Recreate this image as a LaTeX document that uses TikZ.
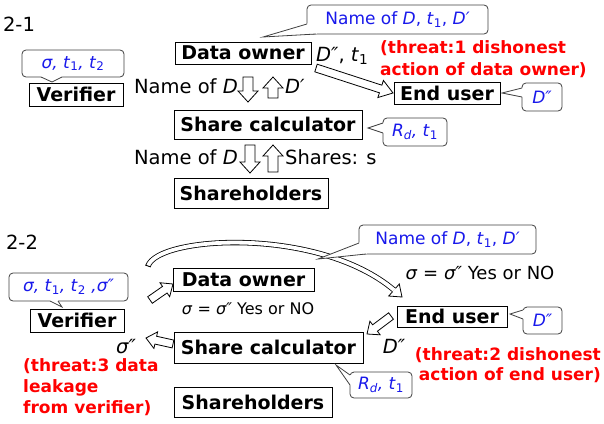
\documentclass[tikz,border=0pt]{standalone}
\usepackage{fontspec}
\setmainfont{DejaVu Sans}
\usetikzlibrary{calc}
\definecolor{cblue}{RGB}{25,25,235}
\definecolor{cred}{RGB}{255,0,0}
\newcommand\blockarr[5]{%
  \coordinate (ah) at ($(#2)!#5!(#1)$);
  \draw[barrow] ($(#1)!#3!90:(#2)$) -- ($(ah)!#3!90:(#2)$) -- ($(ah)!#4!90:(#2)$) -- (#2)
    -- ($(ah)!#4!-90:(#2)$) -- ($(ah)!#3!-90:(#2)$) -- ($(#1)!#3!-90:(#2)$) -- cycle;}
\newcommand\pointer[4]{%
  \fill[white] ($#2+#4$) -- #2 -- #1 -- #3 -- ($#3+#4$) -- cycle;
  \draw[ptrline] #2 -- #1 -- #3;}
\begin{document}
\begin{tikzpicture}[x=1pt,y=-1pt,
  box/.style={draw=black, line width=0.9pt, fill=white, inner sep=0pt,
    font=\fontsize{19}{22}\selectfont\bfseries},
  call/.style={draw=black!75, line width=0.8pt, rounded corners=4pt, fill=white,
    inner sep=0pt, text=cblue, font=\fontsize{17}{20}\selectfont},
  ptrline/.style={draw=black!75, line width=0.8pt},
  lab/.style={inner sep=0pt, font=\fontsize{19.5}{22}\selectfont},
  labs/.style={inner sep=0pt, font=\fontsize{16}{20}\selectfont},
  labm/.style={inner sep=0pt, font=\fontsize{18}{21}\selectfont},
  threat/.style={inner sep=0pt, text=cred, font=\fontsize{17}{22}\selectfont\bfseries},
  barrow/.style={draw=black, line width=0.8pt, fill=white, line join=miter},
]
\useasboundingbox (0,0) rectangle (604,423);

% ================= 2-1 =================
\node[lab] (t21) at (19,24) {2-1};
\node[box, minimum width=136pt, minimum height=22pt] (do1) at (243,53) {Data owner};
\node[box, minimum width=94pt, minimum height=23pt] (ver1) at (76,94.5) {Verifier};
\node[box, minimum width=106pt, minimum height=22pt] (eu1) at (447,93) {End user};
\node[box, minimum width=188pt, minimum height=29pt] (sc1) at (268,124.5) {Share calculator};
\node[box, minimum width=154pt, minimum height=30pt] (sh1) at (251,193) {Shareholders};

\node[lab, anchor=east] (nd1) at (238,86) {Name of \textit{D}};
\node[lab, anchor=west] (dp1) at (285,86) {\textit{D′}};
\node[lab, anchor=west] (dpp1) at (316,56) {\textit{D″}, \textit{t}\textsubscript{1}};
\node[threat, anchor=west, align=left] (th1) at (380,59) {(threat:1 dishonest\\action of data owner)};
\node[lab, anchor=east] (nd2) at (238,157) {Name of \textit{D}};
\node[lab, anchor=west] (shs) at (285,157) {Shares: s};

% block arrows 2-1
\coordinate (d1a) at (248,77);  \coordinate (d1b) at (248,102);
\coordinate (u1a) at (273,98);  \coordinate (u1b) at (273,77);
\coordinate (d2a) at (250,145); \coordinate (d2b) at (250,173);
\coordinate (u2a) at (273,172); \coordinate (u2b) at (273,145);
\coordinate (g1a) at (316,68);  \coordinate (g1b) at (393,93);
\blockarr{d1a}{d1b}{5pt}{10pt}{11pt}
\blockarr{u1a}{u1b}{5pt}{10pt}{11pt}
\blockarr{d2a}{d2b}{5pt}{10pt}{11pt}
\blockarr{u2a}{u2b}{5pt}{10pt}{11pt}
\blockarr{g1a}{g1b}{4pt}{9pt}{13pt}

% callouts 2-1
\node[call, minimum width=181pt, minimum height=29pt] (cdo1) at (397.5,19.5)
  {Name of \textit{D}, \textit{t}\textsubscript{1}, \textit{D′}};
\coordinate (pdo1) at (263,37);
\pointer{(pdo1)}{(307,24)}{(316,34)}{(1.5,-1.5)}

\node[call, minimum width=102pt, minimum height=27pt] (cv1) at (73,63.5)
  {\textit{σ, t}\textsubscript{1}\textit{, t}\textsubscript{2}};
\coordinate (pv1) at (52,82);
\pointer{(pv1)}{(41,77)}{(62,77)}{(0,-1.5)}

\node[call, minimum width=40pt, minimum height=28pt] (ceu1) at (542,97) {\textit{D″}};
\coordinate (peu1) at (502,93);
\pointer{(peu1)}{(522,88)}{(522,97)}{(1.5,0)}

\node[call, minimum width=64pt, minimum height=28pt] (csc1) at (415,132)
  {\textit{R}\textsubscript{\textit{d}}\textit{,} \textit{t}\textsubscript{1}};
\coordinate (psc1) at (368,128);
\pointer{(psc1)}{(383,123)}{(383,133)}{(1.5,0)}

% ================= 2-2 =================
\node[lab] (t22) at (22,242) {2-2};
\node[box, minimum width=141pt, minimum height=23pt] (do2) at (243.5,279.5) {Data owner};
\node[box, minimum width=94pt, minimum height=23pt] (ver2) at (77,320.5) {Verifier};
\node[box, minimum width=110pt, minimum height=21pt] (eu2) at (452,316.5) {End user};
\node[box, minimum width=189pt, minimum height=31pt] (sc2) at (268.5,347.5) {Share calculator};
\node[box, minimum width=158pt, minimum height=30pt] (sh2) at (253,402) {Shareholders};

\node[labs] (yn1) at (248,309) {\textit{σ} = \textit{σ″} Yes or NO};
\node[labm] (yn2) at (480,273) {\textit{σ} = \textit{σ″} Yes or NO};
\node[lab] (dpp2) at (394,346) {\textit{D″}};
\node[lab] (sg2) at (126,347) {\textit{σ″}};
\node[threat, anchor=east, align=right, font=\fontsize{17}{20}\selectfont\bfseries] (th2) at (601,365)
  {(threat:2 dishonest\\action of end user)};
\node[threat, anchor=west, align=left, font=\fontsize{17}{21}\selectfont\bfseries] (th3) at (23,387)
  {(threat:3 data\\leakage\\from verifier)};

% curved hollow arrow
\coordinate (cvs) at (148,266);
\coordinate (cvh) at (394,290);
\coordinate (cvt) at (402,297);
\draw[line width=0.8pt, double=white, double distance=3.8pt]
  (cvs) .. controls (158,236) and (318,226) .. (cvh);
\draw[line width=0.8pt] ($(cvs)!2.8pt!90:(158,236)$) -- ($(cvs)!2.8pt!-90:(158,236)$);
\path[fill=white, draw=black, line width=0.8pt, line join=miter]
  ($(cvh)!2.3pt!90:(cvt)$) -- ($(cvh)!8pt!90:(cvt)$) -- (cvt)
  -- ($(cvh)!8pt!-90:(cvt)$) -- ($(cvh)!2.3pt!-90:(cvt)$);

% block arrows 2-2
\coordinate (vda) at (150,300); \coordinate (vdb) at (173,284);
\coordinate (sva) at (173,344); \coordinate (svb) at (146,338);
\coordinate (esa) at (391,316); \coordinate (esb) at (367,334);
\blockarr{vda}{vdb}{4pt}{8.5pt}{10pt}
\blockarr{sva}{svb}{4pt}{8.5pt}{10pt}
\blockarr{esa}{esb}{4pt}{8.5pt}{10pt}

% callouts 2-2
\node[call, minimum width=177pt, minimum height=29pt] (cdo2) at (447.5,239.5)
  {Name of \textit{D}, \textit{t}\textsubscript{1}, \textit{D′}};
\coordinate (pdo2) at (318,259);
\pointer{(pdo2)}{(359,243)}{(366,254)}{(1.5,-1.5)}

\node[call, minimum width=119pt, minimum height=28pt] (cv2) at (68.5,287)
  {\textit{σ, t}\textsubscript{1}\textit{, t}\textsubscript{2}\textit{ ,σ″}};
\coordinate (pv2) at (62,307);
\pointer{(pv2)}{(50,301)}{(58,301)}{(0,-1.5)}

\node[call, minimum width=39pt, minimum height=27pt] (ceu2) at (542.5,320.5) {\textit{D″}};
\coordinate (peu2) at (510,314);
\pointer{(peu2)}{(523,310)}{(523,319)}{(1.5,0)}

\node[call, minimum width=62pt, minimum height=26pt] (csc2) at (381,385)
  {\textit{R}\textsubscript{\textit{d}}\textit{,} \textit{t}\textsubscript{1}};
\coordinate (psc2) at (336,365);
\pointer{(psc2)}{(350,375)}{(350,385)}{(1.5,0)}
\end{tikzpicture}
\end{document}
